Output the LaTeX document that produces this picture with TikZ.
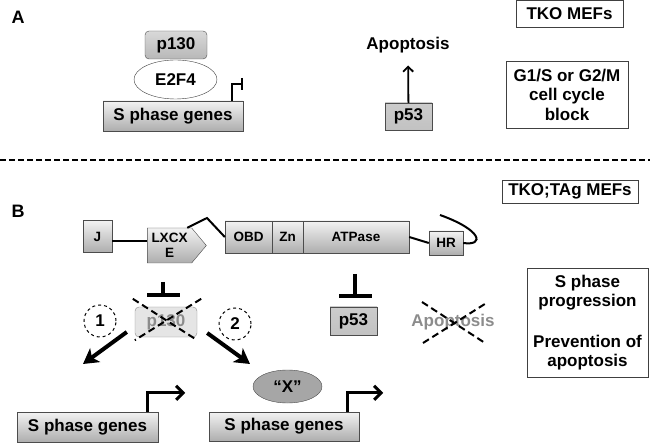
\documentclass[tikz,border=0pt]{standalone}
\usepackage{fontspec}
\setmainfont{Liberation Sans}
\usetikzlibrary{arrows.meta,shapes.geometric,shapes.symbols}

\begin{document}
\begin{tikzpicture}[x=1pt,y=-1pt,font=\bfseries\fontsize{17}{19.5}\selectfont,
  gbox/.style={draw=black!70,top color=black!5,bottom color=black!32,minimum height=30pt,inner sep=0pt},
  dom/.style={gbox,minimum height=32pt,font=\bfseries\fontsize{13.5}{15}\selectfont},
  tbox/.style={draw=black!75,align=center,inner sep=0pt},
  inh/.style={line width=3.5pt,-{Bar[width=33pt]}},
  promo/.style={line width=3pt,-{Straight Barb[length=7pt,width=14pt]}},
  fat/.style={line width=4pt,-{Stealth[length=15pt,width=17pt,inset=4pt]}},
  xout/.style={dash pattern=on 7pt off 4pt,line width=2pt}]
\useasboundingbox (0,0) rectangle (650,443);

% panel A
\node[font=\bfseries\fontsize{18}{20}\selectfont] (la) at (18,17) {A};
\node[gbox,minimum width=140pt] (genA) at (173,116) {S phase genes};
\node[draw=black!75,fill=white,ellipse,minimum width=83pt,minimum height=39pt,inner sep=0pt] (e2f) at (175.5,79.5) {E2F4};
\node[gbox,rounded corners=4pt,minimum width=62pt,minimum height=28pt,top color=black!15,bottom color=black!28] (pA) at (176,45) {p130};
\draw[line width=2pt,-{Bar[width=12pt]}] ([xshift=-11pt]genA.north east) -- ++(0,-17) -- ++(11,0);

\node[gbox,minimum width=47pt,minimum height=27pt,top color=black!20,bottom color=black!24] (p53a) at (408.5,116.5) {p53};
\node (apoa) at (408,45) {Apoptosis};
\draw[line width=1.8pt,-{Straight Barb[length=5pt,width=10pt]},shorten >=9pt] (p53a) -- (apoa);

\node[tbox,minimum width=107pt,minimum height=27pt] (tko) at (569.5,14) {TKO MEFs};
\node[tbox,minimum width=122pt,minimum height=67pt] (blk) at (567,94.5) {G1/S or G2/M\\cell cycle\\block};

\coordinate (sepl) at (0,160);
\coordinate (sepr) at (650,160);
\draw[dash pattern=on 6pt off 3pt,line width=1.5pt] (sepl) -- (sepr);

% panel B
\node[font=\bfseries\fontsize{18}{20}\selectfont] (lb) at (18,211) {B};
\node[tbox,minimum width=136pt,minimum height=23pt] (tag) at (570,191.5) {TKO;TAg MEFs};

\node[dom,minimum width=29pt] (j) at (97.5,236.5) {J};
\node[dom,signal,signal to=east,signal pointer angle=100,minimum width=59pt,minimum height=35pt,align=center] (lx) at (169.5,245.5) {LXCX\\E};
\node[dom,minimum width=47pt] (obd) at (248.5,237) {OBD};
\node[dom,minimum width=31pt] (zn) at (287.5,237) {Zn};
\node[dom,minimum width=106pt] (atp) at (356,237) {ATPase};
\node[dom,minimum width=34pt,minimum height=24pt] (hr) at (446,243) {HR};
\coordinate (kink) at (207,218);
\coordinate (tail) at (440,215);
\draw[line width=2pt] ([yshift=-5pt]j.east) -- ([yshift=4pt]lx.west);
\draw[line width=2pt] (lx.45) -- (kink) -- (obd.west);
\draw[line width=2pt] (atp.east) -- (hr.west);
\draw[line width=2pt] (hr.east) .. controls (485,246) and (482,230) .. (tail);

\node[draw=black!45,fill=black!10,rounded corners=4pt,minimum width=62pt,minimum height=30pt,inner sep=0pt,text=black!45] (pb) at (166,322) {p130};
\draw[inh] ([xshift=-3pt,yshift=25pt]pb.north) -- ([xshift=-3pt,yshift=10pt]pb.north);
\draw[xout] ([shift={(-2pt,8pt)}]pb.north west) -- ([shift={(0pt,-3pt)}]pb.south east);
\draw[xout] ([shift={(4pt,8pt)}]pb.north east) -- ([shift={(0pt,-3pt)}]pb.south west);

\foreach \n/\x/\y in {1/100/321,2/235/324}
  \node[draw,dashed,circle,line width=1pt,minimum size=32pt,inner sep=0pt] (c\n) at (\x,\y) {\n};

\coordinate (tip1) at (83,364);
\coordinate (tip2) at (250,364);
\draw[fat] ([shift={(-8pt,-10pt)}]pb.west) -- (tip1);
\draw[fat] ([shift={(10pt,-11pt)}]pb.east) -- (tip2);

\node[gbox,minimum width=141pt] (g1) at (87.5,427) {S phase genes};
\node[gbox,minimum width=150pt,minimum height=29pt] (g2) at (284,426.5) {S phase genes};
\node[draw=black!70,fill=black!35,ellipse,minimum width=69pt,minimum height=33pt,inner sep=0pt] (x) at (287.5,386.5) {“X”};
\draw[promo] ([xshift=-11pt]g1.north east) -- ++(0,-19) -- ++(38,0);
\draw[promo] ([xshift=-12pt]g2.north east) -- ++(0,-19) -- ++(36,0);

\node[gbox,minimum width=47pt,minimum height=28pt,top color=black!20,bottom color=black!24] (p53b) at (353.5,321) {p53};
\draw[inh] ([xshift=1.5pt,yshift=33pt]p53b.north) -- ([xshift=1.5pt,yshift=9pt]p53b.north);

\node[text=black!45] (apob) at (453,322) {Apoptosis};
\draw[xout] ([shift={(-31pt,20pt)}]apob.center) -- ([shift={(32pt,-21pt)}]apob.center);
\draw[xout] ([shift={(-30pt,-21pt)}]apob.center) -- ([shift={(35pt,20pt)}]apob.center);

\node[tbox,minimum width=121pt,minimum height=109pt] (res) at (587.5,322.5) {S phase\\progression\\[21pt]Prevention of\\apoptosis};
\end{tikzpicture}
\end{document}
